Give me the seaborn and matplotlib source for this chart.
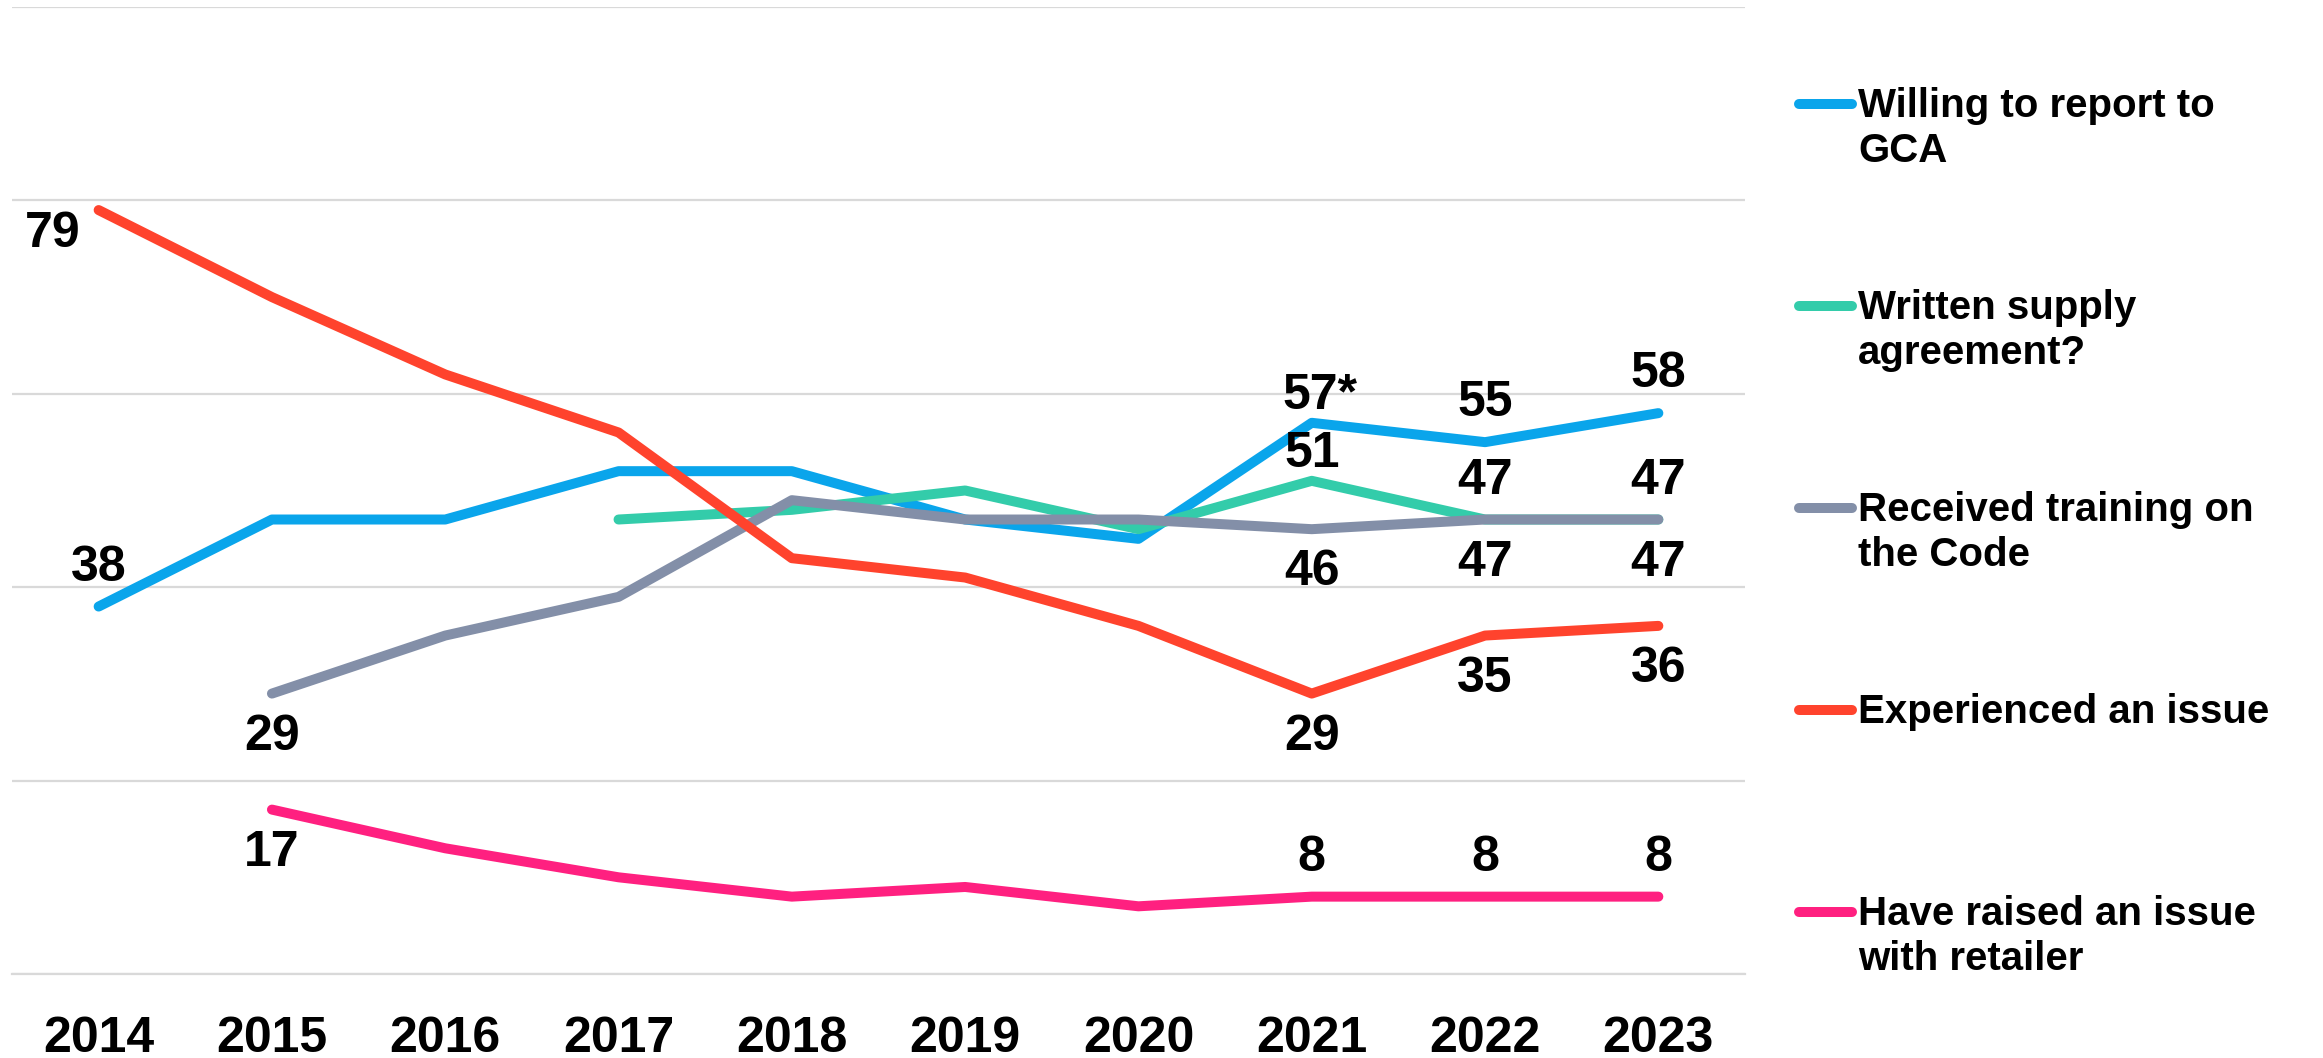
import pandas as pd
import numpy as np
import matplotlib
matplotlib.use("Agg")
import matplotlib.pyplot as plt
import seaborn as sns
from matplotlib.lines import Line2D
from matplotlib import font_manager

years = ["2014", "2015", "2016", "2017", "2018", "2019", "2020", "2021", "2022", "2023"]
willing = [38, 47, 47, 52, 52, 47, 45, 57, 55, 58]
written = [np.nan, np.nan, np.nan, 47, 48, 50, 46, 51, 47, 47]
training = [np.nan, 29, 35, 39, 49, 47, 47, 46, 47, 47]
experienced = [79, 70, 62, 56, 43, 41, 36, 29, 35, 36]
raised = [np.nan, 17, 13, 10, 8, 9, 7, 8, 8, 8]

series_names = ["Willing to report to\nGCA", "Written supply\nagreement?",
                "Received training on\nthe Code", "Experienced an issue",
                "Have raised an issue\nwith retailer"]
colors = ["#0AA5EB", "#33CCAA", "#838FA8", "#FF432D", "#FF2080"]

# data labels: (series index, year index, text, above?)
labels = [
    (0, 0, "38", True), (0, 7, "57*", True), (0, 8, "55", True), (0, 9, "58", True),
    (1, 7, "51", True), (1, 8, "47", True), (1, 9, "47", True),
    (2, 1, "29", False), (2, 7, "46", False), (2, 8, "47", False), (2, 9, "47", False),
    (3, 0, "79", False), (3, 7, "29", False), (3, 8, "35", False), (3, 9, "36", False),
    (4, 1, "17", False), (4, 7, "8", True), (4, 8, "8", True), (4, 9, "8", True),
]

all_vals = [willing, written, training, experienced, raised]
rows = []
for name, vals in zip(series_names, all_vals):
    for i, v in enumerate(vals):
        rows.append({"pos": i, "value": v, "series": name})
df = pd.DataFrame(rows).dropna()

sns.set_style("white")
avail = {f.name for f in font_manager.fontManager.ttflist}
num_font = "Liberation Sans Narrow" if "Liberation Sans Narrow" in avail else "Liberation Sans"
plt.rcParams["font.family"] = ["Liberation Sans", "DejaVu Sans"]

fig = plt.figure(figsize=(23.23, 10.58), dpi=100)
ax = fig.add_axes([12 / 2323, 1 - 974 / 1058, (1745 - 12) / 2323, (974 - 7) / 1058])

sns.lineplot(data=df, x="pos", y="value", hue="series", hue_order=series_names,
             palette=colors, linewidth=7.2, ax=ax, legend=False,
             solid_capstyle="round", solid_joinstyle="round", sort=True)

ax.set_xlim(-0.5, 9.5)
ax.set_ylim(0, 100)
ax.set_yticks([0, 20, 40, 60, 80, 100])
ax.yaxis.grid(True, color="#D9D9D9", linewidth=1.6)
ax.set_axisbelow(True)
ax.tick_params(axis="y", left=False, labelleft=False)
for s in ["top", "right", "left"]:
    ax.spines[s].set_visible(False)
ax.spines["bottom"].set_color("#D9D9D9")
ax.spines["bottom"].set_linewidth(1.6)

ax.set_xticks(range(len(years)))
ax.set_xticklabels(years, fontsize=36, fontweight="bold", family=num_font, color="black")
ax.set_xticks(np.arange(-0.5, 10, 1), minor=True)
ax.tick_params(axis="x", which="major", length=0, pad=30)
ax.tick_params(axis="x", which="minor", length=11.5, width=1.3, color="#D9D9D9")
ax.set_xlabel("")
ax.set_ylabel("")

for si, yi, txt, above in labels:
    val = all_vals[si][yi]
    dx, dy = 0, (28 if above else -31)
    if si == 3 and yi == 0:
        dx, dy = -33, -17
    if txt == "57*":
        dx, dy = 6, 19
    if si == 1 and yi == 7:
        dy = 19
    ax.annotate(txt, (yi, val), xytext=(dx, dy), textcoords="offset points",
                ha="center", va="center", fontsize=36, fontweight="bold",
                family=num_font, color="black")

# legend on the right
for i, (name, c) in enumerate(zip(series_names, colors)):
    ypix = 104 + i * 202
    yf = 1 - ypix / 1058
    fig.add_artist(Line2D([1799 / 2323, 1852 / 2323], [yf, yf], color=c,
                          linewidth=7.2, solid_capstyle="round"))
    fig.text(1858 / 2323, yf + 17 / 1058, name, fontsize=29, fontweight="bold",
             va="top", ha="left", linespacing=1.25, color="black")

fig.savefig("out.png", dpi=100)
